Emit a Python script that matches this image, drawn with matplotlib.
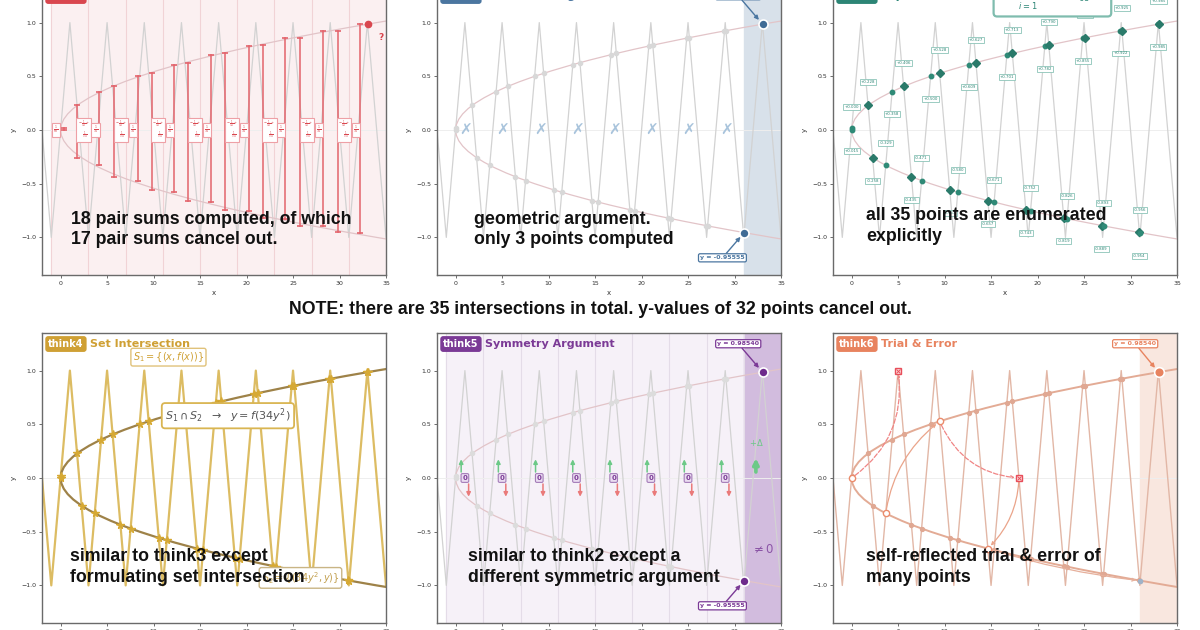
import matplotlib
matplotlib.use('Agg')
import matplotlib.pyplot as plt

# ---------------- data ----------------
saw_x = [-3, -1, 1, 3, 5, 7, 9, 11, 13, 15, 17, 19, 21, 23, 25, 27, 29, 31, 33, 35, 37]
saw_y = [1, -1, 1, -1, 1, -1, 1, -1, 1, -1, 1, -1, 1, -1, 1, -1, 1, -1, 1, -1, 1]

par_y = [-1.10, -1.05, -1.00, -0.95, -0.90, -0.85, -0.80, -0.75, -0.70, -0.65, -0.60,
         -0.55, -0.50, -0.45, -0.40, -0.35, -0.30, -0.25, -0.20, -0.15, -0.10, -0.05,
         0.00, 0.05, 0.10, 0.15, 0.20, 0.25, 0.30, 0.35, 0.40, 0.45, 0.50, 0.55,
         0.60, 0.65, 0.70, 0.75, 0.80, 0.85, 0.90, 0.95, 1.00, 1.05, 1.10]
par_x = [41.14, 37.485, 34.0, 30.685, 27.54, 24.565, 21.76, 19.125, 16.66, 14.365, 12.24,
         10.285, 8.5, 6.885, 5.44, 4.165, 3.06, 2.125, 1.36, 0.765, 0.34, 0.085,
         0.0, 0.085, 0.34, 0.765, 1.36, 2.125, 3.06, 4.165, 5.44, 6.885, 8.5, 10.285,
         12.24, 14.365, 16.66, 19.125, 21.76, 24.565, 27.54, 30.685, 34.0, 37.485, 41.14]

# the 35 intersection points and the kind of sawtooth segment they lie on
pts_x = [0.0, 0.0074, 1.772, 2.258, 4.358, 3.671, 5.593, 6.434, 8.5, 7.530,
         9.471, 10.556, 12.610, 11.422, 13.371, 14.658, 16.703, 15.327, 17.285, 18.744,
         20.781, 19.248, 21.209, 22.817, 24.855, 23.175, 25.141, 26.889, 28.922, 27.107,
         29.072, 30.957, 32.988, 31.041, 33.014]
pts_y = [0.0, 0.0147, 0.2283, -0.2577, 0.3580, -0.3286, 0.4056, -0.4350, 0.5000, -0.4706,
         0.5278, -0.5572, 0.6090, -0.5796, 0.6271, -0.6566, 0.7009, -0.6714, 0.7130, -0.7425,
         0.7818, -0.7524, 0.7898, -0.8192, 0.8550, -0.8256, 0.8599, -0.8893, 0.9223, -0.8929,
         0.9247, -0.9542, 0.9850, -0.9555, 0.9854]
pts_seg = ['r', 'r', 'f', 'f', 'r', 'r', 'f', 'f', 'r', 'r',
           'f', 'f', 'r', 'r', 'f', 'f', 'r', 'r', 'f', 'f',
           'r', 'r', 'f', 'f', 'r', 'r', 'f', 'f', 'r', 'r',
           'f', 'f', 'r', 'r', 'f']

# think1: pair sums
pair_x = [0.36, 1.72, 4.16, 5.73, 8.35, 9.85, 12.22, 13.68, 16.19, 17.73,
          20.24, 21.78, 24.18, 25.76, 28.23, 29.80, 32.24]
pair_top = [0.0147, 0.2283, 0.3580, 0.4056, 0.5000, 0.5278, 0.6090, 0.6271, 0.7009, 0.7130,
            0.7818, 0.7898, 0.8550, 0.8599, 0.9223, 0.9247, 0.9850]
pair_bot = [0.0, -0.2577, -0.3286, -0.4350, -0.4706, -0.5572, -0.5796, -0.6566, -0.6714, -0.7425,
            -0.7524, -0.8192, -0.8256, -0.8893, -0.8929, -0.9542, -0.9555]
sum_box_wide_x = [2.47, 6.47, 10.47, 14.47, 18.47, 22.47, 26.47, 30.47]
sum_box_small_x = [3.75, 7.75, 11.75, 15.75, 19.75, 23.75, 27.75, 31.75]
band_edges = [-1, 3, 7, 11, 15, 19, 23, 27, 31]

# think2 / think5 symmetric centres
sym_x = [1, 5, 9, 13, 17, 21, 25, 29]

# highlighted values
y_top_val = 0.98540
y_bot_val = -0.95555
top_pt = (33.014, 0.9854)
bot_pt = (31.041, -0.9555)

# think6 trial points
trial_ok_x = [0.0, 9.471, 3.671, 14.658]
trial_ok_y = [0.0, 0.5278, -0.3286, -0.6566]
trial_bad_x = [5.0, 18.0]
trial_bad_y = [1.0, 0.0]

x_ticks = [0, 5, 10, 15, 20, 25, 30, 35]
y_ticks = [-1.0, -0.5, 0.0, 0.5, 1.0]

panel_tags = ['think1', 'think2', 'think3', 'think4', 'think5', 'think6']
panel_names = ['Pairwise Cancellation', 'Geometric Argument', 'Explicit Enumeration',
               'Set Intersection', 'Symmetry Argument', 'Trial & Error']
panel_colors = ['#d9474f', '#4b76a0', '#2c8575', '#cfa034', '#7b3a96', '#e8835f']
panel_notes = ['18 pair sums computed, of which\n17 pair sums cancel out.',
               'geometric argument.\nonly 3 points computed',
               'all 35 points are enumerated\nexplicitly',
               'similar to think3 except\nformulating set intersection',
               'similar to think2 except a\ndifferent symmetric argument',
               'self-reflected trial & error of\nmany points']
note_x = [1.07, 1.93, 1.55, 1.04, 1.33, 1.55]
note_text = 'NOTE: there are 35 intersections in total. y-values of 32 points cancel out.'

# ---------------- figure ----------------
W, H = 1200, 630
fig = plt.figure(figsize=(12, 6.3), dpi=100)
fig.patch.set_facecolor('white')


def px_axes(left, top, width=344, height=290):
    return fig.add_axes([left / W, (H - top - height) / H, width / W, height / H])


axes = [px_axes(42, -15), px_axes(437, -15), px_axes(833, -15),
        px_axes(42, 333), px_axes(437, 333), px_axes(833, 333)]
BOLD = ['Liberation Sans', 'DejaVu Sans']


def base(ax, saw_c='#d2d2d2', saw_lw=0.9, saw_a=1.0, par_c='#e2c4c8', par_lw=0.9, par_a=1.0):
    ax.set_xlim(-2, 35)
    ax.set_ylim(-1.35, 1.35)
    ax.plot(saw_x, saw_y, color=saw_c, lw=saw_lw, alpha=saw_a, zorder=2)
    ax.plot(par_x, par_y, color=par_c, lw=par_lw, alpha=par_a, zorder=2)
    ax.axhline(0, color='#eeeeee', lw=0.7, zorder=1)
    ax.set_xticks(x_ticks)
    ax.set_yticks(y_ticks)
    ax.tick_params(labelsize=4.5, length=2, width=0.5, pad=2, colors='#333333')
    ax.set_xlabel('x', fontsize=5, labelpad=3, color='#333333')
    ax.set_ylabel('y', fontsize=5, labelpad=3, color='#333333')
    for s in ax.spines.values():
        s.set_color('#6a6a6a')
        s.set_linewidth(1.0)


def title(ax, i):
    ax.text(0.018, 0.962, panel_tags[i], transform=ax.transAxes, ha='left', va='center',
            fontsize=7, weight='bold', color='white', zorder=15,
            bbox=dict(boxstyle='round,pad=0.3,rounding_size=0.3', fc=panel_colors[i], ec='none'))
    ax.text(0.14, 0.962, panel_names[i], transform=ax.transAxes, ha='left', va='center',
            fontsize=8, weight='bold', color=panel_colors[i], zorder=15)


def note(ax, i, ytop):
    ax.text(note_x[i], ytop, panel_notes[i], ha='left', va='top', fontsize=12.8,
            family=BOLD, weight='bold', color='#111111', zorder=20, linespacing=1.3)


def label_box(ax, xy, xytext, txt, c, fs=4.5):
    ax.annotate(txt, xy=xy, xytext=xytext, ha='center', va='center', fontsize=fs,
                weight='bold', color=c, zorder=14,
                bbox=dict(boxstyle='round,pad=0.25', fc='white', ec=c, lw=0.9),
                arrowprops=dict(arrowstyle='-|>', color=c, lw=1.0, shrinkA=0, shrinkB=4,
                                mutation_scale=6))


# ---- think1 ----
ax = axes[0]
c = panel_colors[0]
ax.axvspan(-1, 35, color='#fbf0f1', zorder=0)
for e in band_edges:
    ax.axvline(e, color='#f1d3d6', lw=0.8, zorder=1)
base(ax)
for px_, t, b in zip(pair_x, pair_top, pair_bot):
    ax.plot([px_, px_], [b, t], color='#e3646c', lw=1.3, alpha=0.85, zorder=4)
    ax.plot([px_, px_], [b, t], ls='none', marker='_', ms=4, mew=1.2, color='#e3646c', zorder=4)
ax.text(-0.5, 0, r'$\frac{1}{68}$', ha='center', va='center', fontsize=3.2, color=c, zorder=5,
        bbox=dict(boxstyle='square,pad=0.25', fc='white', ec='#eea0a6', lw=0.8))
for wx, sx in zip(sum_box_wide_x, sum_box_small_x):
    ax.text(wx, 0, '$-\\frac{1}{34}+$\n   $\\frac{1}{34}$', ha='center', va='center', fontsize=2.6,
            color=c, zorder=5, linespacing=0.9,
            bbox=dict(boxstyle='square,pad=0.3', fc='white', ec='#eea0a6', lw=0.8))
    ax.text(sx, 0, r'$\frac{1}{34}$', ha='center', va='center', fontsize=3.2, color=c, zorder=5,
            bbox=dict(boxstyle='square,pad=0.25', fc='white', ec='#eea0a6', lw=0.8))
ax.plot([top_pt[0]], [top_pt[1]], 'o', ms=4.5, color=c, zorder=6)
ax.text(34.5, 0.86, '?', ha='center', va='center', fontsize=6.5, weight='bold', color=c, zorder=6)
title(ax, 0)
note(ax, 0, -0.75)

# ---- think2 ----
ax = axes[1]
c = panel_colors[1]
ax.axvspan(31, 35, color='#d8e1ea', zorder=0)
base(ax)
ax.plot(pts_x, pts_y, 'o', ms=3, color='#d8d8d8', zorder=3)
for sx in sym_x:
    ax.text(sx + 0.1, 0, '\u2717', ha='center', va='center', fontsize=11, color='#a9c4dc', zorder=4)
ax.plot([top_pt[0]], [top_pt[1]], 'o', ms=6.5, color='#3f6b95', mec='white', mew=1.2, zorder=8)
ax.plot([bot_pt[0]], [bot_pt[1]], 'o', ms=6.5, color='#3f6b95', mec='white', mew=1.2, zorder=8)
label_box(ax, top_pt, (30.4, 1.25), 'y = %.5f' % y_top_val, c)
label_box(ax, bot_pt, (28.7, -1.19), 'y = %.5f' % y_bot_val, c)
title(ax, 1)
note(ax, 1, -0.75)

# ---- think3 ----
ax = axes[2]
c = panel_colors[2]
base(ax)
for x, y, s in zip(pts_x, pts_y, pts_seg):
    if s == 'f':
        ax.plot([x], [y], 'D', ms=3.8, color='#2a7a6a', zorder=6)
        off = 0.215 if y > 0 else -0.215
    else:
        ax.plot([x], [y], 'o', ms=3.2, color='#2f8a77', zorder=6)
        off = -0.21 if y > 0 else 0.21
    ax.text(x, y + off, '%+.3f' % y, ha='center', va='center', fontsize=2.8, color=c, zorder=7,
            bbox=dict(boxstyle='square,pad=0.25', fc='white', ec='#8cc4b8', lw=0.6))
ax.text(21.6, 1.09, r'$S=\sum_{i=1}^{35}\, y_i=\frac{1+5\sqrt{185}}{68}$', ha='center', va='bottom',
        fontsize=8.5, color=c, zorder=9,
        bbox=dict(boxstyle='round,pad=0.3', fc='white', ec='#7fbcae', lw=1.6))
title(ax, 2)
note(ax, 2, -0.72)

# ---- think4 ----
ax = axes[3]
c = panel_colors[3]
base(ax, saw_c='#d9b552', saw_lw=1.6, saw_a=0.9, par_c='#9e8248', par_lw=1.6)
ax.plot(pts_x, pts_y, '*', ms=5.5, color='#d6a934', zorder=5)
ax.text(11.6, 1.125, r'$S_1=\{(x,f(x))\}$', ha='center', va='center', fontsize=7, color='#d0a236',
        zorder=9, bbox=dict(boxstyle='round,pad=0.2', fc='white', ec='#e0c27a', lw=1.0))
ax.text(18.0, 0.58, r'$S_1\cap S_2\ \ \rightarrow\ \ y=f(34y^2)$', ha='center', va='center',
        fontsize=8, color='#555555', zorder=9,
        bbox=dict(boxstyle='round,pad=0.3', fc='white', ec='#d9b552', lw=1.3))
ax.text(25.8, -0.93, r'$S_2=\{(34y^2,y)\}$', ha='center', va='center', fontsize=7, color='#c2a050',
        zorder=9, bbox=dict(boxstyle='round,pad=0.25', fc='white', ec='#c9b585', lw=1.0))
title(ax, 3)
note(ax, 3, -0.655)

# ---- think5 ----
ax = axes[4]
c = panel_colors[4]
ax.axvspan(-1, 31, color='#f6f1f8', zorder=0)
ax.axvspan(31, 35, color='#d2bcde', zorder=0)
for e in band_edges:
    ax.axvline(e, color='#e4dce8', lw=0.8, zorder=1)
base(ax)
ax.plot(pts_x, pts_y, 'o', ms=3, color='#dcdcdc', zorder=3)
for sx in sym_x:
    ax.annotate('', xy=(sx - 0.4, 0.2), xytext=(sx - 0.4, 0.03), zorder=5,
                arrowprops=dict(arrowstyle='-|>', color='#6cc987', lw=1.1, mutation_scale=6))
    ax.annotate('', xy=(sx + 0.4, -0.2), xytext=(sx + 0.4, -0.03), zorder=5,
                arrowprops=dict(arrowstyle='-|>', color='#ea7a7a', lw=1.1, mutation_scale=6))
    ax.text(sx, 0, '0', ha='center', va='center', fontsize=5, weight='bold', color=c, zorder=6,
            bbox=dict(boxstyle='round,pad=0.2', fc='#eadcf1', ec='#a47cb8', lw=0.8))
ax.annotate('', xy=(32.3, 0.21), xytext=(32.3, 0.03), zorder=5,
            arrowprops=dict(arrowstyle='-|>', color='#6cc987', lw=2.6, mutation_scale=8))
ax.text(32.3, 0.33, r'$+\Delta$', ha='center', va='center', fontsize=6, color='#6cc987', zorder=6)
ax.text(33.0, -0.67, r'$\neq 0$', ha='center', va='center', fontsize=8.5, color='#8b55a6', zorder=6)
ax.plot([top_pt[0]], [top_pt[1]], 'o', ms=6.5, color='#6e2a8c', mec='white', mew=1.2, zorder=8)
ax.plot([bot_pt[0]], [bot_pt[1]], 'o', ms=6.5, color='#6e2a8c', mec='white', mew=1.2, zorder=8)
label_box(ax, top_pt, (30.4, 1.25), 'y = %.5f' % y_top_val, c)
label_box(ax, bot_pt, (28.7, -1.19), 'y = %.5f' % y_bot_val, c)
title(ax, 4)
note(ax, 4, -0.655)

# ---- think6 ----
ax = axes[5]
c = panel_colors[5]
ax.axvspan(31, 35, color='#f9e7df', zorder=0)
base(ax, saw_c='#e2b7a6', saw_lw=1.0, par_c='#e3ab95', par_lw=1.4)
ax.plot(pts_x, pts_y, 'o', ms=2.8, color='#e0a893', zorder=3)
arc_kw = dict(arrowstyle='->', lw=0.9, mutation_scale=5, shrinkA=3, shrinkB=3)
ax.annotate('', xy=(5.0, 1.0), xytext=(0.0, 0.0), zorder=5,
            arrowprops=dict(color='#f08585', ls='--', connectionstyle='arc3,rad=0.3', **arc_kw))
ax.annotate('', xy=(9.471, 0.5278), xytext=(3.671, -0.3286), zorder=5,
            arrowprops=dict(color='#eaa48a', connectionstyle='arc3,rad=-0.2', **arc_kw))
ax.annotate('', xy=(18.0, 0.0), xytext=(9.471, 0.5278), zorder=5,
            arrowprops=dict(color='#f08585', ls='--', connectionstyle='arc3,rad=0.3', **arc_kw))
ax.annotate('', xy=(14.658, -0.6566), xytext=(18.0, 0.0), zorder=5,
            arrowprops=dict(color='#eaa48a', connectionstyle='arc3,rad=-0.2', **arc_kw))
ax.annotate('', xy=(31.041, -0.9555), xytext=(14.658, -0.6566), zorder=5,
            arrowprops=dict(color='#e6b09c', connectionstyle='arc3,rad=0.05', **arc_kw))
ax.plot(trial_ok_x, trial_ok_y, 'o', ms=4.5, mfc='white', mec='#eb8c6c', mew=1.0, zorder=7)
ax.plot(trial_bad_x, trial_bad_y, 's', ms=4.5, mfc='#fde3e3', mec='#e84e5a', mew=1.0, zorder=7)
ax.plot(trial_bad_x, trial_bad_y, 'x', ms=2.5, mec='#e84e5a', mew=0.7, zorder=8)
ax.plot([bot_pt[0]], [bot_pt[1]], 'o', ms=3, color='#9fb3c8', zorder=7)
ax.plot([top_pt[0]], [top_pt[1]], 'o', ms=7, color='#e8835f', mec='white', mew=1.2, zorder=8)
label_box(ax, top_pt, (30.5, 1.25), 'y = %.5f' % y_top_val, c)
title(ax, 5)
note(ax, 5, -0.655)

fig.text(0.5, 1 - 310 / H, note_text, ha='center', va='center', fontsize=12.8,
         family=BOLD, weight='bold', color='#111111')

fig.savefig('out.png', dpi=100)
